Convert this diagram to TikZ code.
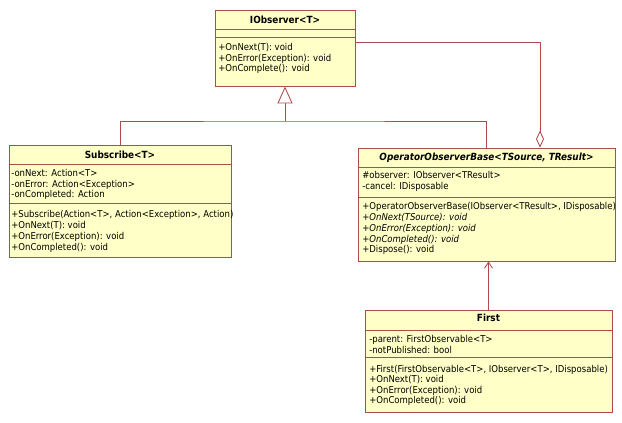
\documentclass[tikz,border=0pt]{standalone}
\usepackage{fontspec}
\setmainfont{DejaVu Sans Condensed}
\usepackage{xcolor}
\usepackage{tikz}
\usetikzlibrary{fit}
\usetikzlibrary{arrows.meta}
\definecolor{umlfill}{RGB}{255,255,200}
\definecolor{umlline}{RGB}{175,75,75}
\def\umlfont{\fontsize{7.1}{8}\selectfont}
\def\umltitle{\fontsize{7.4}{8}\selectfont\bfseries}
\tikzset{
	classbox/.style={draw=umlline,fill=umlfill,line width=0.65pt,inner sep=0pt},
	member/.style={anchor=base west,inner sep=0pt,font=\umlfont},
	classname/.style={anchor=base,inner sep=0pt,font=\umltitle},
	link/.style={draw=umlline,line width=0.65pt},
}

\begin{document}
\begin{tikzpicture}[x=0.75pt,y=-0.75pt]
					\useasboundingbox (0,0) rectangle (622,422);
					% IObserver<T>
					\node[classbox,fit={(215,10) (355,86)}] (iobs) {};
					\draw[link] (iobs.west |- 0,29)--(iobs.east |- 0,29);
					\draw[link] (iobs.west |- 0,37)--(iobs.east |- 0,37);
					\node[classname] (iobs-t) at (285,23.5) {IObserver<T>};
					\foreach \txt [count=\i] in {+OnNext(T): void,+OnError(Exception): void,+OnComplete(): void}
						\node[member] (iobs-m\i) at (218,50.5+10.5*\i-10.5) {\txt};
					% Subscribe<T>
					\node[classbox,fit={(9,145) (231,257)}] (sub) {};
					\draw[link] (sub.west |- 0,164)--(sub.east |- 0,164);
					\draw[link] (sub.west |- 0,203)--(sub.east |- 0,203);
					\node[classname] (sub-t) at (120,158.5) {Subscribe<T>};
					\foreach \txt [count=\i] in {-onNext: Action<T>,-onError: Action<Exception>,-onCompleted: Action}
						\node[member] (sub-a\i) at (11,176.5+10.5*\i-10.5) {\txt};
					\foreach \txt [count=\i] in {{+Subscribe(Action<T>, Action<Exception>, Action)},+OnNext(T): void,+OnError(Exception): void,+OnCompleted(): void}
						\node[member] (sub-m\i) at (11,217+11*\i-11) {\txt};
					% OperatorObserverBase<TSource, TResult>
					\node[classbox,fit={(358,148) (615,261)}] (oob) {};
					\draw[link] (oob.west |- 0,167)--(oob.east |- 0,167);
					\draw[link] (oob.west |- 0,197)--(oob.east |- 0,197);
					\node[classname,font=\umltitle\itshape] (oob-t) at (486.5,160.5) {OperatorObserverBase<TSource, TResult>};
					\foreach \txt [count=\i] in {\#observer: IObserver<TResult>,-cancel: IDisposable}
						\node[member] (oob-a\i) at (362,178+11.5*\i-11.5) {\txt};
					\foreach \txt [count=\i] in {{+OperatorObserverBase(IObserver<TResult>, IDisposable)},\itshape +OnNext(TSource): void,\itshape +OnError(Exception): void,\itshape +OnCompleted(): void,+Dispose(): void}
						\node[member] (oob-m\i) at (362,209.7+10.8*\i-10.8) {\txt};
					% First
					\node[classbox,fit={(365,310) (612,412)}] (first) {};
					\draw[link] (first.west |- 0,330)--(first.east |- 0,330);
					\draw[link] (first.west |- 0,357)--(first.east |- 0,357);
					\node[classname] (first-t) at (488.5,321) {First};
					\foreach \txt [count=\i] in {-parent: FirstObservable<T>,-notPublished: bool}
						\node[member] (first-a\i) at (369,342+11*\i-11) {\txt};
					\foreach \txt [count=\i] in {{+First(FirstObservable<T>, IObserver<T>, IDisposable)},+OnNext(T): void,+OnError(Exception): void,+OnCompleted(): void}
						\node[member] (first-m\i) at (369,372.5+10.3*\i-10.3) {\txt};
					% relations
					\coordinate (gen) at (iobs.south |- 0,121);
					\draw[link] (sub.north) |- (gen) -| (oob.north);
					\draw[link,-{Triangle[length=12.75pt,width=11.25pt,fill=white]}] (gen)--(iobs.south);
					\draw[link,{Diamond[length=12.75pt,width=6pt,fill=white]}-] (oob.north -| 540,0) |- (iobs.east |- 0,42);
					\draw[link,-{Straight Barb[length=4.5pt,width=6pt]}] (first.north)--(first.north |- oob.south);
				\end{tikzpicture}
\end{document}
